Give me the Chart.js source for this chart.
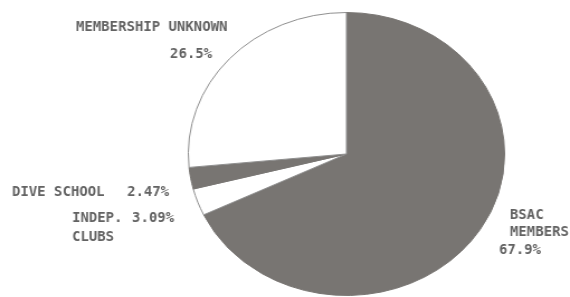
<!DOCTYPE html>
<html>
<head>
<meta charset="utf-8">
<script src="https://cdn.jsdelivr.net/npm/chart.js@4/dist/chart.umd.min.js"></script>
<style>
  html, body { margin: 0; padding: 0; background: #fff; overflow: hidden; }
  #wrap { width: 510px; height: 297px; transform: scaleX(1.1176); transform-origin: 0 0; }
</style>
</head>
<body>
<div id="wrap"><canvas id="chart" width="510" height="297"></canvas></div>
<script>
// data (clockwise from 12 o'clock)
const categories = ['BSAC MEMBERS', 'INDEP. CLUBS', 'DIVE SCHOOL', 'MEMBERSHIP UNKNOWN'];
const shares = [67.9, 3.09, 2.47, 26.5];

const GREY = '#787572';
const SX = 570 / 510; // the printed pie is stretched sideways

// where each caption sits (page px, left edge / middle line)
const captions = [
  { lines: [['BSAC', 510, 215], ['MEMBERS', 510, 232]], pct: [499, 250] },
  { lines: [['INDEP.', 72, 218], ['CLUBS', 72, 237]], pct: [132, 218] },
  { lines: [['DIVE SCHOOL', 12, 192]], pct: [127, 192] },
  { lines: [['MEMBERSHIP UNKNOWN', 76, 27]], pct: [170, 54] }
];

// plotter lettering is a bit taller than a normal mono font
function tallText(c, txt, x, y) {
  c.save();
  c.translate(x / SX, y);
  c.scale(1, 1.15);
  c.fillText(txt, 0, 0);
  c.restore();
}

const captionPlugin = {
  id: 'captions',
  afterDraw(chart) {
    const c = chart.ctx;
    c.save();
    c.fillStyle = '#626262';
    c.font = 'bold 12.5px "DejaVu Sans Mono", monospace';
    c.textBaseline = 'middle';
    c.textAlign = 'left';
    captions.forEach((cap, i) => {
      cap.lines.forEach(([txt, x, y]) => tallText(c, txt, x, y));
      tallText(c, shares[i] + '%', cap.pct[0], cap.pct[1]);
    });
    c.restore();
  }
};

const ctx = document.getElementById('chart').getContext('2d');
new Chart(ctx, {
  type: 'pie',
  data: {
    labels: categories,
    datasets: [{
      data: shares,
      backgroundColor: [GREY, '#ffffff', GREY, '#ffffff'],
      borderColor: [GREY, '#8f8f8f', GREY, '#8f8f8f'],
      borderWidth: 1
    }]
  },
  options: {
    responsive: false,
    animation: false,
    layout: { padding: { left: 168, right: 58, top: 12, bottom: 1 } },
    plugins: {
      legend: { display: false },
      tooltip: { enabled: false }
    }
  },
  plugins: [captionPlugin]
});
</script>
</body>
</html>
